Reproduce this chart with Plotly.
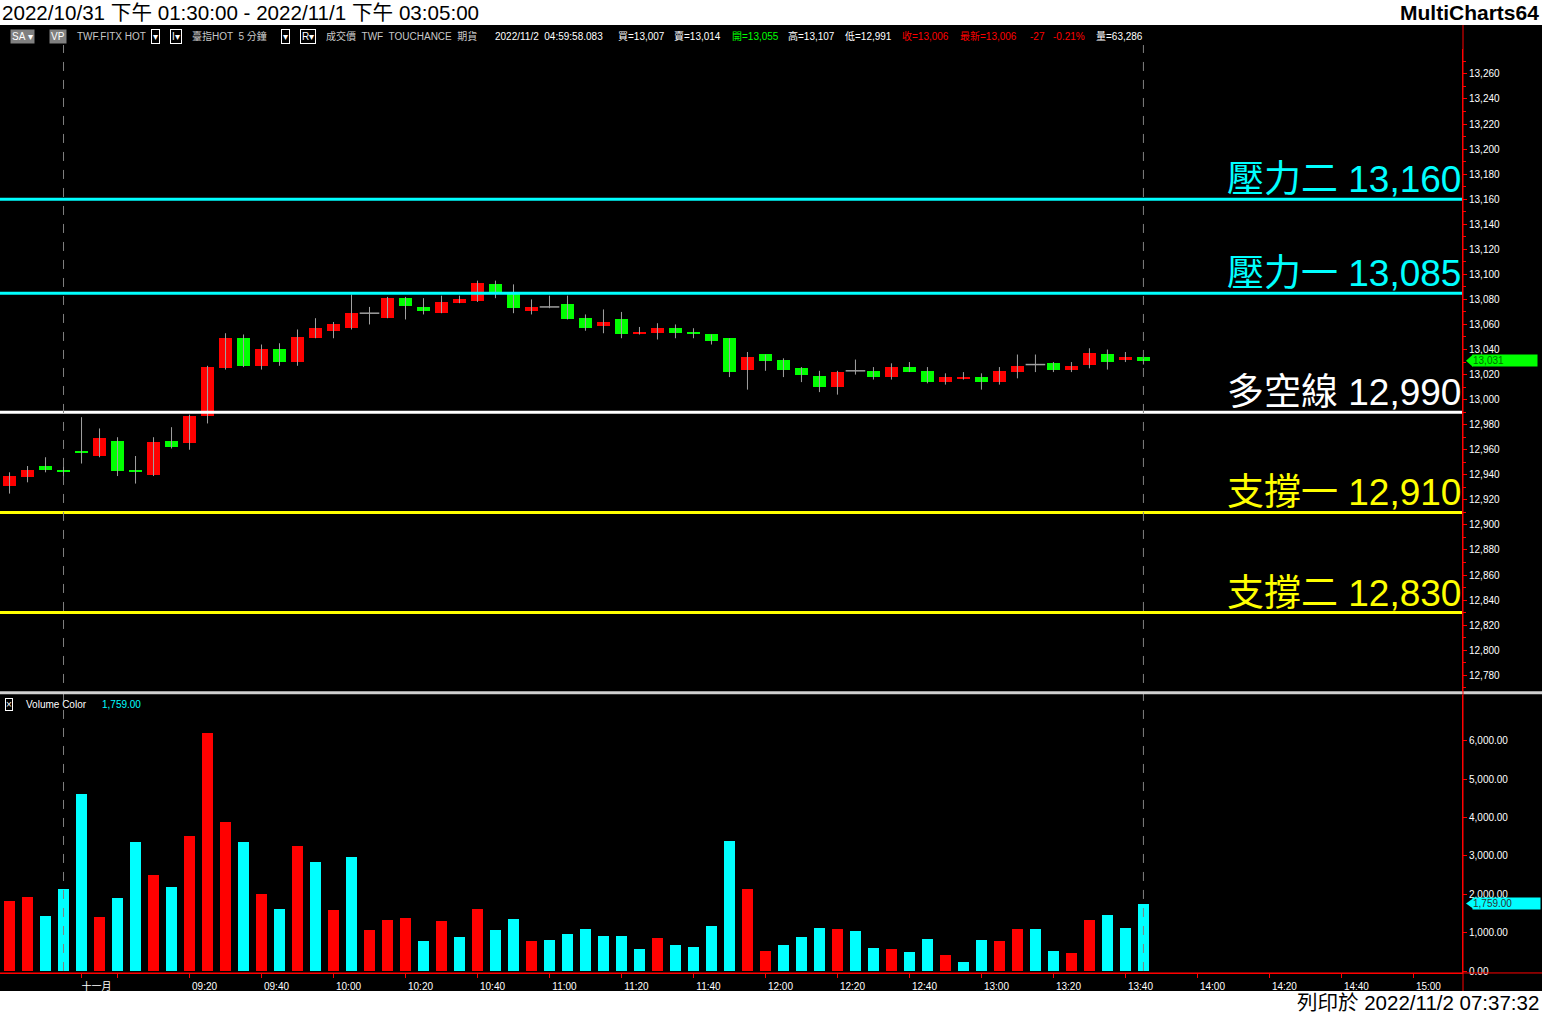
import pandas as pd
import plotly.graph_objects as go

# ---------------- data ----------------
session1 = pd.date_range("2022-10-31 13:30", periods=4, freq="5min")
session2 = pd.date_range("2022-11-01 08:50", "2022-11-01 15:05", freq="5min")
slots = session1.append(session2)

opens = [12931, 12938, 12947, 12944, 12959, 12955, 12967, 12944, 12940, 12967,
         12965, 12987, 13025, 13049, 13027, 13040, 13030, 13049, 13055, 13057,
         13069, 13065, 13081, 13074, 13069, 13077, 13079, 13092, 13085, 13071,
         13074, 13076, 13065, 13059, 13064, 13052, 13053, 13057, 13054, 13052,
         13049, 13024, 13036, 13032, 13025, 13019, 13010, 13023, 13023, 13018,
         13026, 13023, 13014, 13017, 13018, 13014, 13022, 13028, 13029, 13024,
         13028, 13036, 13032, 13034]
highs = [12942, 12947, 12954, 12947, 12986, 12977, 12970, 12955, 12970, 12978,
         12988, 13027, 13053, 13052, 13044, 13045, 13056, 13065, 13062, 13084,
         13074, 13082, 13082, 13081, 13083, 13083, 13095, 13095, 13092, 13080,
         13083, 13083, 13068, 13072, 13070, 13058, 13061, 13060, 13057, 13052,
         13049, 13038, 13036, 13033, 13026, 13023, 13023, 13032, 13026, 13029,
         13030, 13026, 13021, 13022, 13021, 13026, 13036, 13036, 13030, 13030,
         13041, 13040, 13038, 13036]
lows = [12925, 12934, 12942, 12938, 12949, 12954, 12939, 12933, 12939, 12961,
        12960, 12981, 13024, 13026, 13024, 13027, 13027, 13049, 13049, 13056,
        13060, 13065, 13064, 13068, 13069, 13077, 13078, 13081, 13069, 13068,
        13073, 13064, 13055, 13053, 13049, 13052, 13048, 13049, 13049, 13044,
        13018, 13008, 13023, 13018, 13014, 13006, 13004, 13020, 13016, 13016,
        13022, 13013, 13012, 13016, 13008, 13012, 13017, 13022, 13022, 13022,
        13025, 13024, 13030, 13028]
closes = [12939, 12944, 12944, 12942, 12957, 12969, 12943, 12942, 12966, 12962,
          12987, 13026, 13049, 13027, 13040, 13030, 13050, 13057, 13060, 13069,
          13069, 13081, 13075, 13071, 13078, 13080, 13093, 13084, 13073, 13074,
          13074, 13064, 13057, 13062, 13052, 13054, 13057, 13053, 13052, 13047,
          13022, 13034, 13031, 13024, 13020, 13010, 13022, 13023, 13018, 13026,
          13022, 13014, 13018, 13018, 13014, 13023, 13027, 13028, 13024, 13027,
          13037, 13030, 13034, 13031]
volumes = [1846, 1950, 1453, 2134, 4620, 1427, 1924, 3364, 2500, 2186,
           3521, 6217, 3887, 3364, 2003, 1636, 3259, 2840, 1610, 2971,
           1086, 1348, 1400, 798, 1322, 903, 1636, 1086, 1374, 798,
           825, 982, 1113, 929, 929, 589, 877, 694, 641, 1191,
           3390, 2134, 537, 694, 903, 1139, 1113, 1060, 615, 589,
           510, 851, 432, 249, 825, 798, 1113, 1113, 537, 484,
           1348, 1479, 1139, 1759]
# volume bar colour: R = red, C = cyan
volume_dir = list("RRCCCRCCRC" "RRRCRCRCRC" "RRRCRCRCCR" "CCCCCCRCCC"
                  "CRRCCCRCCR" "CCRCCRRCCR" "RCCC")

level_names = ["壓力二", "壓力一", "多空線", "支撐一", "支撐二"]
level_values = [13160, 13085, 12990, 12910, 12830]
level_colors = ["#00ffff", "#00ffff", "#ffffff", "#ffff00", "#ffff00"]

tick_clock = ["08:50", "09:00", "09:20", "09:40", "10:00", "10:20", "10:40", "11:00",
              "11:20", "11:40", "12:00", "12:20", "12:40", "13:00", "13:20", "13:40",
              "14:00", "14:20", "14:40", "15:00"]
tick_text = ["十一月", "", "09:20", "09:40", "10:00", "10:20", "10:40", "11:00",
             "11:20", "11:40", "12:00", "12:20", "12:40", "13:00", "13:20", "13:40",
             "14:00", "14:20", "14:40", "15:00"]

last_price = closes[-1]
last_volume = volumes[-1]

# ---------------- geometry helpers ----------------
W, H = 1542, 1014
HV = 1009  # vertical reference used for pixel placement
def px(x):
    return x / W
def py(y):
    return 1 - y / HV

FONT = "Liberation Sans, Noto Sans CJK TC, sans-serif"
RED = "#ff0000"
GREEN = "#00ff00"
CYAN = "#00ffff"
WICK = "#a0a0a0"

n = len(closes)
idx = list(range(n))
slot_pos = {t.strftime("%Y-%m-%d %H:%M"): i for i, t in enumerate(slots)}
tick_vals = [slot_pos["2022-11-01 " + c] for c in tick_clock]
dates = [t.strftime("%Y-%m-%d") for t in slots[:n]]
session_ends = [i for i in range(n) if i == n - 1 or dates[i + 1] != dates[i]]

fig = go.Figure()

# wicks
wx, wy = [], []
for i in idx:
    wx += [i, i, None]
    wy += [lows[i], highs[i], None]
fig.add_trace(go.Scatter(x=wx, y=wy, mode="lines", line=dict(color=WICK, width=1),
                         hoverinfo="skip", showlegend=False, xaxis="x", yaxis="y"))

# candle bodies
bx, bbase, bh, bc = [], [], [], []
dx, dy = [], []
for i in idx:
    o, c = opens[i], closes[i]
    if o == c:
        dx.append(i); dy.append(c)
        continue
    bx.append(i)
    bbase.append(min(o, c))
    bh.append(abs(c - o))
    bc.append(RED if c > o else GREEN)
fig.add_trace(go.Bar(x=bx, y=bh, base=bbase, width=0.72, marker=dict(color=bc, line=dict(width=0)),
                     showlegend=False, xaxis="x", yaxis="y"))
fig.add_trace(go.Scatter(x=dx, y=dy, mode="markers",
                         marker=dict(symbol="line-ew", size=14, line=dict(color=WICK, width=1.5)),
                         showlegend=False, xaxis="x", yaxis="y"))

# volume
vcol = [RED if d == "R" else CYAN for d in volume_dir]
fig.add_trace(go.Bar(x=idx, y=volumes, width=0.61, marker=dict(color=vcol, line=dict(width=0)),
                     showlegend=False, xaxis="x", yaxis="y2"))

shapes = []
annotations = []

shapes.append(dict(type="rect", xref="paper", yref="paper", x0=0, x1=1, y0=py(990), y1=py(25),
                   fillcolor="#000000", line=dict(width=0), layer="below"))

for name, val, col in zip(level_names, level_values, level_colors):
    shapes.append(dict(type="line", xref="paper", yref="y", x0=0, x1=px(1462), y0=val, y1=val,
                       line=dict(color=col, width=3)))
    annotations.append(dict(xref="paper", yref="y", x=px(1462), y=val, xanchor="right",
                            yanchor="bottom", showarrow=False, text=f"{name} {val:,}",
                            font=dict(family=FONT, size=37, color=col), borderpad=0, yshift=-2))

for s in session_ends:
    shapes.append(dict(type="line", xref="x", yref="paper", x0=s, x1=s, y0=py(970), y1=py(45),
                       line=dict(color="#808080", width=1, dash="dash")))

shapes.append(dict(type="line", xref="paper", yref="paper", x0=0, x1=1, y0=py(692), y1=py(692),
                   line=dict(color="#d0d0d0", width=3)))
shapes.append(dict(type="line", xref="paper", yref="paper", x0=px(1463), x1=px(1463),
                   y0=py(990), y1=py(25), line=dict(color=RED, width=1)))
shapes.append(dict(type="line", xref="paper", yref="paper", x0=0, x1=1,
                   y0=py(972), y1=py(972), line=dict(color=RED, width=1)))

# last price / last volume markers
shapes.append(dict(type="path", xref="paper", yref="y",
                   path=f"M {px(1466)},{last_price} L {px(1473)},{last_price + 5} L {px(1473)},{last_price - 5} Z",
                   fillcolor=GREEN, line=dict(width=0)))
annotations.append(dict(xref="paper", yref="y", x=px(1472), y=last_price, xanchor="left", yanchor="middle",
                        showarrow=False, text=f"{last_price:,}" + "&nbsp;" * 12, bgcolor=GREEN, borderpad=0,
                        font=dict(family=FONT, size=10, color="#007000"), align="left"))
shapes.append(dict(type="path", xref="paper", yref="y2",
                   path=f"M {px(1466)},{last_volume} L {px(1473)},{last_volume + 130} L {px(1473)},{last_volume - 130} Z",
                   fillcolor=CYAN, line=dict(width=0)))
annotations.append(dict(xref="paper", yref="y2", x=px(1472), y=last_volume, xanchor="left", yanchor="middle",
                        showarrow=False, text=f"{last_volume:,.2f}" + "&nbsp;" * 10, bgcolor=CYAN, borderpad=0,
                        font=dict(family=FONT, size=10, color="#303030"), align="left"))

# header / footer
annotations.append(dict(xref="paper", yref="paper", x=0, y=py(12), xanchor="left", yanchor="middle",
                        showarrow=False, text="2022/10/31 下午 01:30:00 - 2022/11/1 下午 03:05:00",
                        font=dict(family=FONT, size=20.6, color="#000000")))
annotations.append(dict(xref="paper", yref="paper", x=px(1541), y=py(12), xanchor="right", yanchor="middle",
                        showarrow=False, text="<b>MultiCharts64</b>",
                        font=dict(family=FONT, size=21, color="#000000")))
annotations.append(dict(xref="paper", yref="paper", x=px(1541), y=py(1002), xanchor="right", yanchor="middle",
                        showarrow=False, text="列印於 2022/11/2 07:37:32",
                        font=dict(family=FONT, size=20.5, color="#000000")))

# info row
GRAYTXT = "#c8c8c8"
info = [
    (10, "SA ▾", "#ffffff", "#808080", None),
    (49, "VP", "#ffffff", "#808080", None),
    (75, "TWF.FITX HOT", GRAYTXT, None, None),
    (151, "▾", "#ffffff", None, "#ffffff"),
    (170, "I▾", "#ffffff", None, "#ffffff"),
    (190, "臺指HOT  5 分鐘", GRAYTXT, None, None),
    (281, "▾", "#ffffff", None, "#ffffff"),
    (300, "R▾", "#ffffff", None, "#ffffff"),
    (324, "成交價  TWF  TOUCHANCE  期貨", GRAYTXT, None, None),
    (493, "2022/11/2  04:59:58.083", "#ffffff", None, None),
    (616, "買=13,007", "#ffffff", None, None),
    (672, "賣=13,014", "#ffffff", None, None),
    (730, "開=13,055", GREEN, None, None),
    (786, "高=13,107", "#ffffff", None, None),
    (843, "低=12,991", "#ffffff", None, None),
    (900, "收=13,006", RED, None, None),
    (958, "最新=13,006", RED, None, None),
    (1028, "-27", RED, None, None),
    (1051, "-0.21%", RED, None, None),
    (1094, "量=63,286", "#ffffff", None, None),
]
for x, t, c, bg, bd in info:
    a = dict(xref="paper", yref="paper", x=px(x), y=py(36), xanchor="left", yanchor="middle",
             showarrow=False, text=t, font=dict(family=FONT, size=10, color=c), borderpad=1)
    if bg:
        a["bgcolor"] = bg
    if bd:
        a["bordercolor"] = bd
        a["borderwidth"] = 1
    annotations.append(a)

# volume panel title
annotations.append(dict(xref="paper", yref="paper", x=px(5), y=py(704), xanchor="left", yanchor="middle",
                        showarrow=False, text="×", bordercolor="#ffffff", borderwidth=1, borderpad=0,
                        font=dict(family=FONT, size=10, color="#ffffff")))
annotations.append(dict(xref="paper", yref="paper", x=px(24), y=py(704), xanchor="left", yanchor="middle",
                        showarrow=False, text="Volume Color", font=dict(family=FONT, size=10, color="#ffffff")))
annotations.append(dict(xref="paper", yref="paper", x=px(100), y=py(704), xanchor="left", yanchor="middle",
                        showarrow=False, text=f"{last_volume:,.2f}", font=dict(family=FONT, size=10, color=CYAN)))

# price scale: 13160 at 199 px, 1.2515 px per point
pp = 1.2515
price_top = 13160 + (199 - 49) / pp
price_bot = 13160 - (690 - 199) / pp

fig.update_layout(
    width=W, height=H,
    margin=dict(l=0, r=0, t=0, b=0),
    paper_bgcolor="#ffffff", plot_bgcolor="#000000",
    barmode="overlay", bargap=0, showlegend=False, hovermode=False,
    font=dict(family=FONT, size=10, color="#ffffff"),
    xaxis=dict(domain=[0, px(1462)], anchor="y2", range=[-0.53, 80.7],
               tickmode="array", tickvals=tick_vals, ticktext=tick_text,
               ticks="outside", ticklen=4, tickcolor=RED, showline=True, linecolor=RED, linewidth=1,
               tickfont=dict(family=FONT, size=10, color="#ffffff"), ticklabelshift=15,
               showgrid=False, zeroline=False, fixedrange=True),
    yaxis=dict(domain=[py(690), py(49)], anchor="x", side="right", range=[price_bot, price_top],
               tickmode="array", tickvals=list(range(12780, 13261, 20)), tickformat=",d",
               ticks="outside", ticklen=4, tickcolor=RED, showline=True, linecolor=RED,
               minor=dict(dtick=10, tick0=12770, ticks="outside", ticklen=3, tickcolor=RED),
               tickfont=dict(family=FONT, size=10, color="#ffffff"),
               showgrid=False, zeroline=False, fixedrange=True),
    yaxis2=dict(domain=[py(972), py(694)], anchor="x", side="right", range=[-50, 7200],
                tickmode="array", tickvals=[0, 1000, 2000, 3000, 4000, 5000, 6000], tickformat=",.2f",
                ticks="outside", ticklen=4, tickcolor=RED, showline=True, linecolor=RED,
                tickfont=dict(family=FONT, size=10, color="#ffffff"),
                showgrid=False, zeroline=False, fixedrange=True),
    shapes=shapes,
    annotations=annotations,
)

fig.write_html("out.html", config={"displayModeBar": False},
               post_script="document.body.style.margin='0';document.body.style.overflow='hidden';")
